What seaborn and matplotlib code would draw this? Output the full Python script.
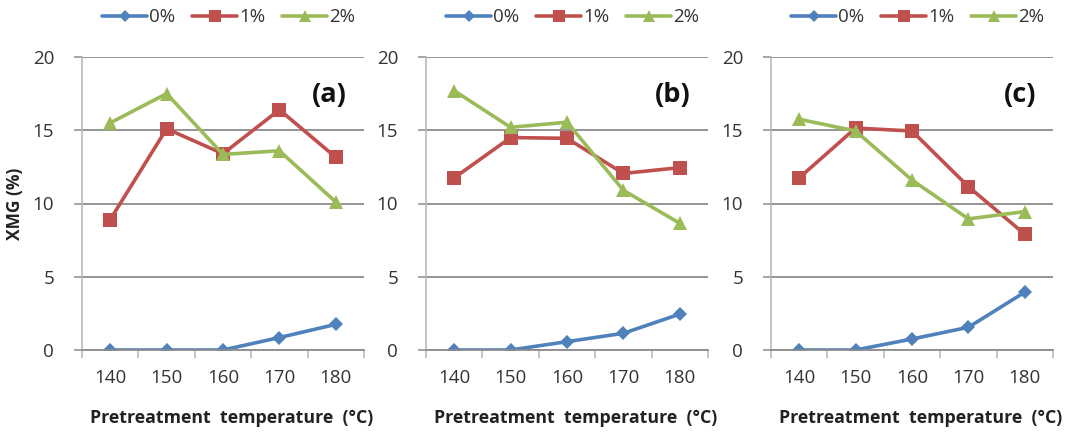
import matplotlib
matplotlib.use("Agg")
import matplotlib.pyplot as plt
import seaborn as sns
import pandas as pd

temperatures = ["140", "150", "160", "170", "180"]
series_names = ["0%", "1%", "2%"]
panel_labels = ["(a)", "(b)", "(c)"]

a_0 = [0.0, 0.0, 0.0, 0.85, 1.75]
a_1 = [8.9, 15.1, 13.4, 16.4, 13.15]
a_2 = [15.5, 17.5, 13.35, 13.6, 10.1]

b_0 = [0.0, 0.0, 0.57, 1.14, 2.45]
b_1 = [11.75, 14.5, 14.45, 12.05, 12.45]
b_2 = [17.7, 15.2, 15.55, 10.9, 8.65]

c_0 = [0.0, 0.0, 0.75, 1.55, 3.95]
c_1 = [11.75, 15.15, 14.95, 11.15, 7.9]
c_2 = [15.75, 14.95, 11.6, 8.95, 9.45]

panels = [(a_0, a_1, a_2), (b_0, b_1, b_2), (c_0, c_1, c_2)]

palette = {"0%": "#4F81BD", "1%": "#C0504D", "2%": "#9BBB59"}
markers = {"0%": "D", "1%": "s", "2%": "^"}
msizes = {"0%": 7.5, "1%": 10, "2%": 10.5}

sns.set_theme(style="white")
plt.rcParams["font.family"] = ["Open Sans", "DejaVu Sans"]

fig = plt.figure(figsize=(10.72, 4.37), dpi=100)
lefts = [82 / 1072, 426 / 1072, 771 / 1072]
width = 282 / 1072
bottom = 1 - 350 / 437
height = (350 - 57) / 437

grid_col = "#8C8C8C"
spine_col = "#B5B5B5"

for i, (vals, lab) in enumerate(zip(panels, panel_labels)):
    ax = fig.add_axes([lefts[i], bottom, width, height])
    rows = []
    for name, v in zip(series_names, vals):
        for t, y in zip(temperatures, v):
            rows.append({"temp": t, "value": y, "series": name})
    df = pd.DataFrame(rows)
    for name in series_names:
        sub = df[df["series"] == name]
        sns.lineplot(data=sub, x="temp", y="value", ax=ax, color=palette[name],
                     marker=markers[name], markersize=msizes[name],
                     markeredgewidth=0, linewidth=2.6, label=name, sort=False)
    ax.set_xlim(-0.5, 4.5)
    ax.set_ylim(0, 20)
    ax.set_yticks([0, 5, 10, 15, 20])
    ax.set_yticklabels(["0", "5", "10", "15", "20"])
    ax.set_xticks(range(5))
    ax.set_xticklabels(temperatures)
    ax.set_xticks([k - 0.5 for k in range(6)], minor=True)
    ax.tick_params(axis="x", which="major", length=0, pad=14, labelsize=13.5, colors="#333333")
    ax.tick_params(axis="x", which="minor", length=6, width=1.1, color=spine_col, direction="out", bottom=True)
    ax.tick_params(axis="y", which="major", length=6, width=1.1, color=grid_col, left=True,
                   pad=14, labelsize=13.5, labelcolor="#333333")
    ax.grid(axis="y", color=grid_col, linewidth=1.3)
    ax.grid(axis="x", visible=False)
    for s in ["top", "right"]:
        ax.spines[s].set_visible(False)
    ax.spines["left"].set_color(spine_col)
    ax.spines["left"].set_linewidth(1.1)
    ax.spines["bottom"].set_color(grid_col)
    ax.spines["bottom"].set_linewidth(1.3)
    ax.set_axisbelow(True)
    ax.set_xlabel("Pretreatment  temperature  (°C)", fontsize=12.8, fontweight="bold",
                  color="#222222")
    ax.xaxis.set_label_coords(0.53, -0.2)
    if i == 0:
        ax.set_ylabel("XMG (%)", fontsize=12.5, fontweight="bold", color="#222222")
        ax.yaxis.set_label_coords(-0.205, 0.5)
    else:
        ax.set_ylabel("")
    ax.text(0.94, 0.87, lab, transform=ax.transAxes, fontsize=19.5, fontweight="bold",
            ha="right", va="center", color="#111111")
    leg = ax.legend(loc="center", bbox_to_anchor=(0.52, 1.135), ncol=3, frameon=False,
                    fontsize=13.5, handlelength=2.4, handletextpad=0.1, columnspacing=0.9,
                    markerscale=0.85, borderaxespad=0)
    for t in leg.get_texts():
        t.set_color("#333333")

fig.savefig("out.png", dpi=100)
